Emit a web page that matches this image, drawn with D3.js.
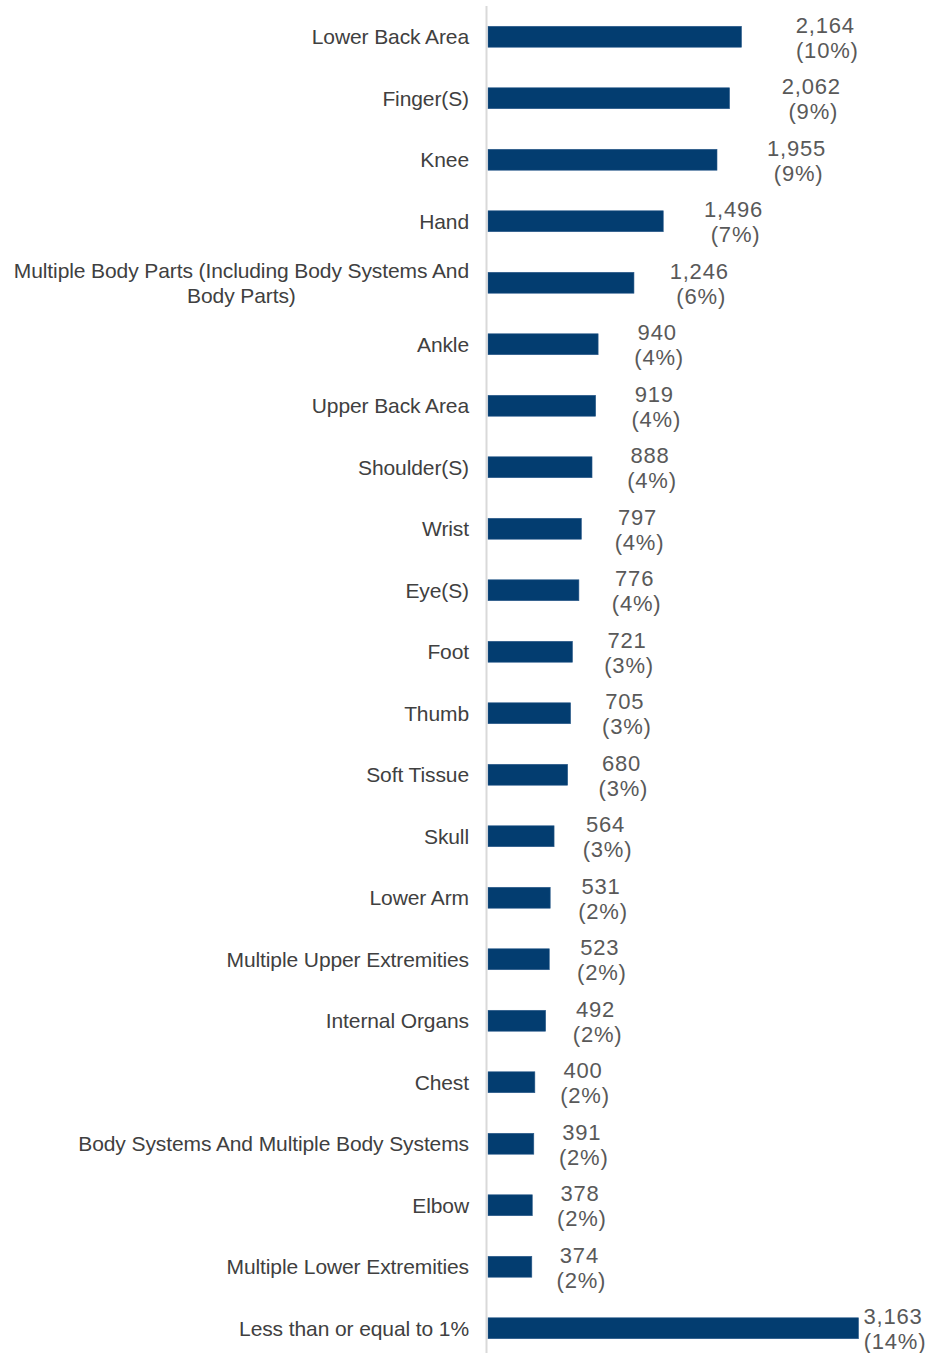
<!DOCTYPE html>
<html>
<head>
<meta charset="utf-8">
<script src="https://cdn.jsdelivr.net/npm/d3@7"></script>
<style>
  html, body { margin: 0; padding: 0; background: #ffffff; }
  svg { display: block; }
</style>
</head>
<body>
<svg id="chart" width="927" height="1353"></svg>
<script>
// Injuries by body part: counts and share of total
const categories = [
  "Lower Back Area",
  "Finger(S)",
  "Knee",
  "Hand",
  "Multiple Body Parts (Including Body Systems And|Body Parts)",
  "Ankle",
  "Upper Back Area",
  "Shoulder(S)",
  "Wrist",
  "Eye(S)",
  "Foot",
  "Thumb",
  "Soft Tissue",
  "Skull",
  "Lower Arm",
  "Multiple Upper Extremities",
  "Internal Organs",
  "Chest",
  "Body Systems And Multiple Body Systems",
  "Elbow",
  "Multiple Lower Extremities",
  "Less than or equal to 1%"
];
const counts = [2164, 2062, 1955, 1496, 1246, 940, 919, 888, 797, 776, 721, 705, 680, 564, 531, 523, 492, 400, 391, 378, 374, 3163];
const shares = ["10%", "9%", "9%", "7%", "6%", "4%", "4%", "4%", "4%", "4%", "3%", "3%", "3%", "3%", "2%", "2%", "2%", "2%", "2%", "2%", "2%", "14%"];

const rows = categories.map((c, i) => ({ cat: c, value: counts[i], share: shares[i] }));

const svg = d3.select("#chart");
const W = 927, H = 1353;
const plotLeft = 488, plotRight = 858.5;
const plotTop = 6, plotBottom = 1359;
const labelRight = 469;

const x = d3.scaleLinear().domain([0, d3.max(counts)]).range([plotLeft, plotRight]);
const y = d3.scaleBand().domain(categories).range([plotTop, plotBottom]).paddingInner(0.66).paddingOuter(0.33);

// label anchor drifts outward with bar length
const labelX = d3.scaleLinear().domain([0, 2164]).range([plotLeft + 40, plotLeft + 40 + 0.1374 * 2164]);

const fmt = d3.format(",");

// bars
svg.append("g").selectAll("rect").data(rows).join("rect")
  .attr("x", x(0))
  .attr("y", d => y(d.cat))
  .attr("width", d => x(d.value) - x(0))
  .attr("height", y.bandwidth())
  .attr("fill", "#033d70")
  .attr("stroke", "#2a5a8a")
  .attr("stroke-width", 0.6);

// vertical category axis line
svg.append("line")
  .attr("x1", plotLeft - 1.5).attr("x2", plotLeft - 1.5)
  .attr("y1", plotTop).attr("y2", H)
  .attr("stroke", "#d9d9d9").attr("stroke-width", 2);

// category labels
const catG = svg.append("g")
  .attr("font-family", "'Liberation Sans', Arial, sans-serif")
  .attr("font-size", 21)
  .attr("letter-spacing", -0.1)
  .attr("fill", "#404040");

rows.forEach(d => {
  const lines = d.cat.split("|");
  const cy = y(d.cat) + y.bandwidth() / 2;
  if (lines.length === 1) {
    catG.append("text").attr("text-anchor", "end")
      .attr("x", labelRight).attr("y", cy + 7.5).text(lines[0]);
  } else {
    // wrapped label: lines centred on the first line's midpoint
    const first = catG.append("text").attr("text-anchor", "end")
      .attr("x", labelRight).attr("y", cy - 4.5).text(lines[0]);
    const mid = labelRight - first.node().getComputedTextLength() / 2;
    catG.append("text").attr("text-anchor", "middle")
      .attr("x", mid).attr("y", cy + 20.5).text(lines[1]);
  }
});

// value labels (count over share)
const valG = svg.append("g")
  .attr("font-family", "'Liberation Sans', Arial, sans-serif")
  .attr("font-size", 22)
  .attr("letter-spacing", 0.8)
  .attr("fill", "#595959")
  .attr("text-anchor", "middle");

rows.forEach(d => {
  const cy = y(d.cat) + y.bandwidth() / 2;
  const cx = Math.min(labelX(d.value), 893);
  valG.append("text").attr("x", cx).attr("y", cy - 4).text(fmt(d.value));
  valG.append("text").attr("x", cx + 2).attr("y", cy + 21).text("(" + d.share + ")");
});
</script>
</body>
</html>
